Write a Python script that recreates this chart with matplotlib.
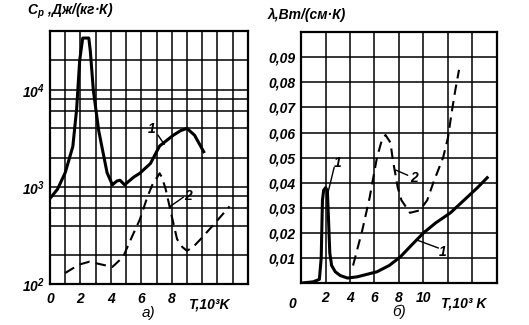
import matplotlib
matplotlib.use("Agg")
import matplotlib.pyplot as plt
from matplotlib.ticker import FixedLocator, NullFormatter

plt.rcParams["font.family"] = ["Liberation Sans", "DejaVu Sans"]
plt.rcParams["font.weight"] = "bold"
plt.rcParams["font.style"] = "italic"
plt.rcParams["mathtext.fontset"] = "custom"
plt.rcParams["mathtext.rm"] = "Liberation Sans:italic:bold"
plt.rcParams["mathtext.it"] = "Liberation Sans:italic:bold"
plt.rcParams["mathtext.bf"] = "Liberation Sans:italic:bold"

# ── a) heat capacity Cp, J/(kg K), log scale ──
T_cp1 = [0, 0.5, 1.0, 1.5, 1.75, 1.95, 2.15, 2.55, 2.65, 2.85, 3.2, 3.5, 3.75, 4.1,
         4.4, 4.6, 4.9, 5.2, 5.5, 5.9, 6.6, 7.2, 8.1, 8.6, 9.0, 9.5, 10.1]
cp1 = [760, 950, 1400, 2600, 6300, 20000, 34000, 34000, 25000, 9800, 3800, 2200, 1400, 1050,
       1150, 1170, 1050, 1150, 1260, 1380, 1740, 2630, 3400, 3800, 4000, 3400, 2300]
T_cp2 = [1.0, 1.5, 2.0, 2.6, 3.3, 4.1, 4.8, 5.4, 5.9, 6.4, 6.8, 7.05, 7.2, 7.35, 7.6,
         8.0, 8.35, 8.7, 9.0, 9.4, 9.9, 10.7, 11.8]
cp2 = [130, 145, 160, 170, 160, 150, 190, 310, 460, 790, 1120, 1260, 1380, 1260, 950,
       500, 290, 240, 220, 240, 290, 400, 630]

# ── б) thermal conductivity lambda, W/(cm K) ──
T_lam1 = [0, 1.0, 1.5, 1.65, 1.75, 1.85, 2.0, 2.15, 2.25, 2.35, 2.5, 2.8, 3.2, 3.8, 4.6,
          5.4, 6.2, 7.2, 8.1, 9.0, 10.0, 11.0, 12.2, 13.3, 14.4, 15.2]
lam1 = [0, 0.0005, 0.0015, 0.01, 0.033, 0.037, 0.038, 0.037, 0.025, 0.012, 0.007, 0.0045,
        0.003, 0.002, 0.0025, 0.0035, 0.0045, 0.007, 0.0104, 0.015, 0.020, 0.024, 0.028,
        0.033, 0.038, 0.042]
T_lam2 = [4.25, 5.0, 5.6, 6.2, 6.6, 6.9, 7.3, 7.5, 7.9, 8.2, 8.9, 9.7, 10.3, 10.8, 11.6,
          12.0, 12.3, 12.6, 12.9]
lam2 = [0.007, 0.021, 0.034, 0.050, 0.057, 0.059, 0.056, 0.049, 0.038, 0.033, 0.028, 0.029,
        0.033, 0.040, 0.050, 0.058, 0.068, 0.077, 0.085]

lam_ticks = [0.01, 0.02, 0.03, 0.04, 0.05, 0.06, 0.07, 0.08, 0.09]
lam_labels = ["0,01", "0,02", "0,03", "0,04", "0,05", "0,06", "0,07", "0,08", "0,09"]

FS = 10
dash = (0, (5, 3))

fig = plt.figure(figsize=(5.29, 3.25), dpi=100)
ax1 = fig.add_axes([0.0945, 0.126, 0.374, 0.778])
ax2 = fig.add_axes([0.569, 0.129, 0.3705, 0.772])

for ax in (ax1, ax2):
    for s in ax.spines.values():
        s.set_linewidth(1.6)
    ax.tick_params(which="both", length=0, labelsize=FS)
    ax.grid(True, which="both", color="black", linewidth=1.1)
    ax.set_axisbelow(True)

# ── Panel a ──
ax1.set_yscale("log")
ax1.set_xlim(0, 13)
ax1.set_ylim(100, 40000)
ax1.xaxis.set_major_locator(FixedLocator([0, 2, 4, 6, 8]))
ax1.xaxis.set_minor_locator(FixedLocator(list(range(1, 13))))
ax1.set_xticklabels(["0", "2", "4", "6", "8"])
ax1.yaxis.set_major_locator(FixedLocator([100, 1000, 10000]))
ax1.set_yticklabels(["$10^2$", "$10^3$", "$10^4$"])
ax1.yaxis.set_minor_locator(FixedLocator([200, 400, 600, 800, 2000, 4000, 6000, 8000, 20000]))
ax1.yaxis.set_minor_formatter(NullFormatter())
ax1.tick_params(axis="x", pad=6)
ax1.tick_params(axis="y", pad=4)

ax1.plot(T_cp1, cp1, color="black", linewidth=2.2, solid_joinstyle="round")
ax1.plot(T_cp2, cp2, color="black", linewidth=1.5, linestyle=dash)

ax1.text(6.7, 3900, "1", fontsize=FS, ha="center", va="center")
ax1.plot([7.1, 7.5], [3400, 2750], color="black", linewidth=1.0)
ax1.text(9.1, 800, "2", fontsize=FS, ha="center", va="center")
ax1.plot([8.75, 7.9], [780, 630], color="black", linewidth=1.0)

ax1.text(10.4, -0.055, "T,10³K", transform=ax1.get_xaxis_transform(),
         fontsize=FS, ha="center", va="top")
ax1.text(-0.115, 1.04, "$C_p$ ,Дж/(кг·К)", transform=ax1.transAxes,
         fontsize=FS, ha="left", va="bottom")
ax1.text(0.5, -0.115, "а)", transform=ax1.transAxes, fontsize=FS + 1,
         ha="center", va="center", style="italic", weight="normal")

# ── Panel b ──
ax2.set_xlim(0, 16)
ax2.set_ylim(0, 0.1)
ax2.xaxis.set_major_locator(FixedLocator([2, 4, 6, 8, 10]))
ax2.xaxis.set_minor_locator(FixedLocator([12, 14]))
ax2.set_xticklabels(["2", "4", "6", "8", "10"])
ax2.yaxis.set_major_locator(FixedLocator(lam_ticks))
ax2.set_yticklabels(lam_labels)
ax2.tick_params(axis="x", pad=6)
ax2.tick_params(axis="y", pad=4)

ax2.plot(T_lam1, lam1, color="black", linewidth=2.2, solid_joinstyle="round")
ax2.plot(T_lam2, lam2, color="black", linewidth=1.5, linestyle=dash)

ax2.text(3.0, 0.048, "1", fontsize=FS, ha="center", va="center")
ax2.plot([2.7, 2.2], [0.046, 0.036], color="black", linewidth=1.0)
ax2.text(9.2, 0.042, "2", fontsize=FS, ha="center", va="center")
ax2.plot([8.7, 7.75], [0.043, 0.045], color="black", linewidth=1.0)
ax2.text(11.6, 0.0122, "1", fontsize=FS, ha="center", va="center")
ax2.plot([11.2, 9.55], [0.014, 0.017], color="black", linewidth=1.0)

ax2.text(-0.7, -0.055, "0", transform=ax2.get_xaxis_transform(),
         fontsize=FS, ha="center", va="top")
ax2.text(13.3, -0.055, "T,10³ K", transform=ax2.get_xaxis_transform(),
         fontsize=FS, ha="center", va="top")
ax2.text(-0.17, 1.04, "λ,Вт/(см·К)", transform=ax2.transAxes,
         fontsize=FS, ha="left", va="bottom")
ax2.text(0.5, -0.115, "б)", transform=ax2.transAxes, fontsize=FS + 1,
         ha="center", va="center", style="italic", weight="normal")

fig.savefig("out.png", dpi=100, facecolor="white")
